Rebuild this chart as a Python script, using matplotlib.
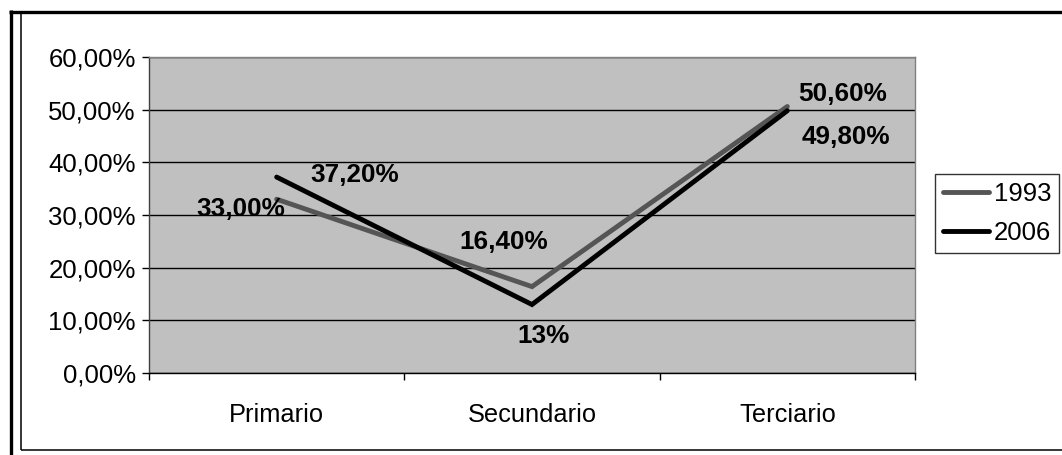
import matplotlib
matplotlib.use("Agg")
import matplotlib.pyplot as plt
from matplotlib.lines import Line2D

plt.rcParams['font.family'] = ['Liberation Sans', 'DejaVu Sans']

categories = ["Primario", "Secundario", "Terciario"]
series_names = ["1993", "2006"]
values_1993 = [33.0, 16.4, 50.6]
values_2006 = [37.2, 13.0, 49.8]
labels_1993 = ["33,00%", "16,40%", "50,60%"]
labels_2006 = ["37,20%", "13%", "49,80%"]
y_ticks = [0, 10, 20, 30, 40, 50, 60]
y_tick_labels = ["0,00%", "10,00%", "20,00%", "30,00%", "40,00%", "50,00%", "60,00%"]

W, H = 1062, 455
fig = plt.figure(figsize=(W / 100, H / 100), dpi=100)
fig.patch.set_facecolor("white")

def px(x0, y0, w, h):
    return [x0 / W, 1 - (y0 + h) / H, w / W, h / H]

ax = fig.add_axes(px(149, 57, 766, 316))
ax.set_facecolor("#c0c0c0")

xs = list(range(len(categories)))
ax.set_xlim(-0.5, len(categories) - 0.5)
ax.set_ylim(0, 60)

ax.yaxis.grid(True, color="black", linewidth=1.0)
ax.set_axisbelow(True)

l1, = ax.plot(xs, values_1993, color="#555555", linewidth=3.5,
              solid_capstyle="round", solid_joinstyle="miter", zorder=3)
l2, = ax.plot(xs, values_2006, color="black", linewidth=3.5,
              solid_capstyle="round", solid_joinstyle="miter", zorder=4)

# value labels
lab_kw = dict(textcoords="offset points", ha="center", va="center",
              fontsize=18.8, fontweight="bold", color="black", zorder=5)
offs_1993 = [(-26, -7), (-20, 32), (40, 9)]
offs_2006 = [(56, 1.5), (8, -23), (42, -19)]
for x, v, t, o in zip(xs, values_1993, labels_1993, offs_1993):
    ax.annotate(t, (x, v), xytext=o, **lab_kw)
for x, v, t, o in zip(xs, values_2006, labels_2006, offs_2006):
    ax.annotate(t, (x, v), xytext=o, **lab_kw)

ax.set_yticks(y_ticks)
ax.set_yticklabels(y_tick_labels, fontsize=18.5)
ax.tick_params(axis="y", direction="out", length=5, width=1, color="black", pad=4.5)

ax.set_xticks(xs)
ax.set_xticklabels(categories, fontsize=18.3)
ax.set_xticks([-0.5, 0.5, 1.5, 2.5], minor=True)
ax.tick_params(axis="x", which="major", length=0, pad=21.5)
ax.tick_params(axis="x", which="minor", direction="out", length=5, width=1, color="black")

ax.spines["left"].set_color("#404040")
ax.spines["bottom"].set_color("black")
ax.spines["top"].set_color("#808080")
ax.spines["right"].set_color("#808080")
for s in ax.spines.values():
    s.set_linewidth(1.0)

leg = fig.legend([l1, l2], series_names, loc="upper left",
                 bbox_to_anchor=(935 / W, 1 - 174 / H), fontsize=18.5,
                 frameon=True, fancybox=False, handlelength=1.8,
                 handletextpad=0.2, borderpad=0.3, labelspacing=0.6,
                 borderaxespad=0)
leg.get_frame().set_edgecolor("black")
leg.get_frame().set_linewidth(1.0)

# chart frame
def fig_line(xa, ya, lw):
    fig.add_artist(Line2D([x / W for x in xa], [1 - y / H for y in ya],
                          transform=fig.transFigure, color="black",
                          linewidth=lw, solid_capstyle="butt"))

fig_line([21, 21], [12, 450], 1.1)
fig_line([21, W], [450, 450], 1.1)
fig_line([10.5, 10.5], [10, H], 2.4)
fig_line([9, W], [11.5, 11.5], 2.4)

fig.savefig("out.png", dpi=100)
